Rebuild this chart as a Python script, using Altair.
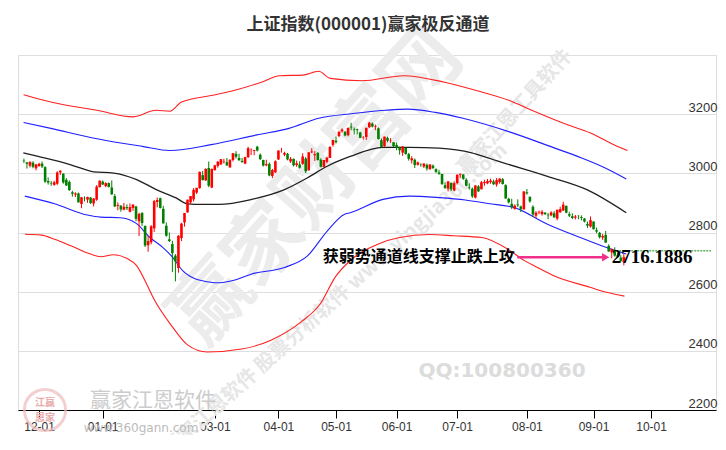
import altair as alt
import pandas as pd

# ---------------- candle data (trading days, 2023-11-24 .. 2024-09-18) ----------------
opens = [3043, 3037, 3026, 3036, 3017,
         3025, 3033, 3021, 2974, 2967, 2961, 2965, 3003, 2999, 2978, 2971, 2936, 2928, 2932, 2896, 2916, 2911, 2918, 2898, 2911, 2953,
         2972, 2957, 2967, 2952, 2923, 2890, 2891, 2877, 2886, 2870, 2883, 2888, 2838, 2866, 2822, 2757, 2767, 2814, 2903, 2916, 2880, 2823,
         2777, 2761, 2722, 2680, 2781, 2834, 2868, 2902, 2912, 2935, 2950, 2994, 2976, 3018, 2952,
         3011, 3025, 3030, 3038, 3038, 3020, 3045, 3066, 3052, 3042, 3033, 3054, 3079, 3076, 3090, 3063, 3045, 3027, 3032, 2991, 3003,
         3047, 3075, 3063, 3066, 3040, 3049, 3028, 3030, 3032, 3050, 3010, 3071, 3061, 3069, 3046, 3022, 3039, 3052, 3096, 3110,
         3126, 3142, 3141, 3129, 3158, 3150, 3149, 3138, 3121, 3123, 3156, 3168, 3157, 3152, 3112, 3092, 3120, 3110, 3105, 3096,
         3086, 3070, 3086, 3065, 3044, 3046, 3029, 3030, 3023, 3029, 3014, 3026, 3014, 3003, 2998, 2960, 2948, 2968, 2942,
         2967, 2994, 2996, 2978, 2952, 2948, 2918, 2956, 2946, 2967, 2966, 2970, 2973, 2962, 2970, 2980, 2960, 2914, 2897, 2880, 2895, 2888, 2878,
         2936, 2921, 2887, 2857, 2868, 2862, 2867, 2860, 2858, 2865, 2847, 2868, 2874, 2890, 2862, 2855, 2850, 2857, 2852, 2847, 2829, 2820,
         2837, 2808, 2799, 2783, 2792, 2755, 2733, 2741, 2724, 2715, 2700]
highs = [3050, 3038, 3040, 3041, 3032,
         3036, 3040, 3024, 2986, 2974, 2975, 3007, 3010, 3000, 2984, 2976, 2941, 2936, 2935, 2920, 2922, 2921, 2920, 2916, 2960, 2976,
         2976, 2970, 2969, 2976, 2930, 2902, 2892, 2900, 2895, 2898, 2896, 2890, 2867, 2869, 2824, 2789, 2825, 2910, 2918, 2918, 2890, 2834,
         2800, 2772, 2727, 2791, 2833, 2866, 2911, 2923, 2950, 2951, 3006, 3008, 3017, 3040, 3016,
         3029, 3042, 3048, 3049, 3052, 3047, 3069, 3075, 3066, 3052, 3056, 3090, 3084, 3079, 3093, 3067, 3046, 3046, 3037, 3015, 3044,
         3078, 3086, 3073, 3069, 3055, 3050, 3043, 3041, 3068, 3055, 3071, 3085, 3075, 3072, 3051, 3045, 3056, 3092, 3113, 3124,
         3141, 3152, 3142, 3154, 3171, 3155, 3151, 3140, 3126, 3154, 3174, 3172, 3165, 3155, 3118, 3124, 3124, 3119, 3106, 3104,
         3090, 3092, 3087, 3069, 3058, 3050, 3040, 3034, 3034, 3033, 3031, 3030, 3017, 3012, 2998, 2970, 2973, 2969, 2973,
         2997, 3000, 2997, 2983, 2966, 2952, 2960, 2960, 2974, 2978, 2981, 2982, 2979, 2984, 2984, 2984, 2963, 2917, 2914, 2895, 2912, 2891, 2939,
         2947, 2921, 2892, 2872, 2874, 2876, 2869, 2866, 2872, 2872, 2877, 2887, 2904, 2891, 2870, 2865, 2859, 2858, 2858, 2849, 2837, 2854,
         2838, 2817, 2802, 2795, 2805, 2760, 2746, 2750, 2730, 2723, 2727]
lows = [3035, 3016, 3020, 3017, 3010,
        3022, 3018, 2968, 2962, 2958, 2958, 2961, 2994, 2965, 2957, 2941, 2921, 2920, 2901, 2882, 2905, 2900, 2897, 2888, 2907, 2953,
        2961, 2953, 2952, 2927, 2886, 2875, 2870, 2875, 2876, 2868, 2873, 2838, 2788, 2822, 2751, 2735, 2760, 2802, 2885, 2881, 2830, 2786,
        2768, 2666, 2635, 2664, 2771, 2820, 2867, 2897, 2905, 2930, 2948, 2976, 2975, 2953, 2950,
        3009, 3019, 3029, 3033, 3025, 3019, 3040, 3050, 3043, 3036, 3031, 3053, 3062, 3061, 3074, 3045, 3023, 3024, 2990, 2984, 3002,
        3045, 3070, 3058, 3044, 3035, 3023, 3022, 3016, 3029, 3001, 3010, 3068, 3042, 3043, 3020, 3020, 3034, 3052, 3090, 3101,
        3122, 3137, 3125, 3125, 3146, 3131, 3132, 3119, 3114, 3113, 3153, 3155, 3146, 3114, 3088, 3090, 3105, 3103, 3089, 3078,
        3063, 3059, 3064, 3043, 3033, 3018, 3026, 3022, 3018, 3009, 3012, 3014, 3001, 2995, 2962, 2948, 2939, 2940, 2940,
        2962, 2985, 2978, 2956, 2945, 2917, 2915, 2937, 2946, 2958, 2963, 2965, 2961, 2955, 2965, 2962, 2914, 2898, 2879, 2877, 2886, 2869, 2878,
        2928, 2901, 2853, 2849, 2862, 2857, 2859, 2845, 2855, 2850, 2841, 2867, 2874, 2865, 2852, 2845, 2844, 2845, 2841, 2834, 2815, 2817,
        2810, 2797, 2780, 2775, 2765, 2735, 2713, 2718, 2716, 2700, 2689]
closes = [3041, 3032, 3039, 3022, 3030,
          3032, 3023, 2972, 2969, 2966, 2970, 3003, 3009, 2969, 2959, 2943, 2931, 2932, 2902, 2919, 2915, 2920, 2899, 2915, 2955, 2975,
          2962, 2967, 2954, 2929, 2888, 2893, 2878, 2887, 2882, 2886, 2894, 2846, 2863, 2832, 2756, 2771, 2821, 2906, 2910, 2883, 2831, 2789,
          2771, 2730, 2702, 2789, 2830, 2866, 2911, 2923, 2944, 2951, 3005, 2977, 3015, 2958, 3015,
          3027, 3039, 3048, 3040, 3027, 3046, 3068, 3056, 3044, 3038, 3055, 3085, 3080, 3079, 3077, 3048, 3026, 3031, 2993, 3011, 3041,
          3077, 3075, 3069, 3047, 3049, 3027, 3034, 3019, 3057, 3007, 3071, 3074, 3065, 3045, 3022, 3045, 3053, 3089, 3113, 3105,
          3141, 3148, 3128, 3154, 3155, 3148, 3146, 3120, 3122, 3154, 3171, 3158, 3159, 3116, 3089, 3124, 3110, 3111, 3092, 3087,
          3078, 3091, 3065, 3049, 3051, 3028, 3037, 3029, 3033, 3016, 3030, 3018, 3005, 2998, 2963, 2950, 2973, 2946, 2967,
          2995, 2997, 2982, 2958, 2950, 2922, 2959, 2939, 2970, 2971, 2974, 2976, 2963, 2977, 2982, 2964, 2915, 2902, 2886, 2891, 2892, 2879, 2939,
          2932, 2905, 2861, 2867, 2870, 2870, 2862, 2858, 2868, 2851, 2877, 2879, 2894, 2867, 2857, 2849, 2854, 2856, 2849, 2837, 2823, 2842,
          2811, 2803, 2784, 2788, 2766, 2736, 2744, 2722, 2717, 2704, 2717]

# ---------------- channel lines (trading-day index, value) ----------------
upper_red_idx = [-5.1, 3.9, 19.1, 31.1, 38.6, 43.2, 47, 56.8, 64.3, 73.4, 79.4, 87, 92.3, 96.1, 106.6, 120.3, 133.8, 144.3, 155, 162.6, 173.1, 182, 189.7, 194.2]
upper_red_val = [3266, 3241, 3213, 3191, 3213, 3210, 3241, 3263, 3280, 3308, 3330, 3332, 3345, 3321, 3313, 3330, 3308, 3280, 3247, 3213, 3169, 3136, 3097, 3077]
upper_blue_idx = [-5.1, 3.9, 19.1, 34.1, 43.2, 56.8, 71.9, 82.5, 92.3, 103.6, 114.2, 121.7, 130.8, 139.9, 155, 170, 179.1, 186.7, 193.8]
upper_blue_val = [3172, 3152, 3117, 3091, 3077, 3097, 3130, 3152, 3186, 3202, 3213, 3217, 3206, 3186, 3141, 3086, 3052, 3019, 2981]
mid_idx = [-5.2, -0.3, 10.5, 18.1, 24.6, 32.2, 38.7, 45.2, 49, 53.9, 59.3, 70.2, 81, 88.6, 95.1, 102.7, 113.5, 122.2, 132, 142.8, 148.2, 151.5, 167.8, 180.8, 193.8]
mid_val = [3069, 3057, 3029, 3005, 3001, 2979, 2945, 2917, 2897, 2895, 2895, 2912, 2945, 2985, 3024, 3057, 3088, 3088, 3085, 3069, 3052, 3041, 2990, 2945, 2867]
lower_blue_idx = [-4.7, 5.1, 15.9, 20.3, 26.8, 32.2, 36.6, 40.9, 44.1, 47.4, 51.7, 53.9, 59, 64, 70.2, 81, 88.6, 95.1, 100.7, 102.7, 113.5, 122.2, 132, 140.7, 148.2, 156.9, 167.8, 178.6, 187.3, 193.8]
lower_blue_val = [2923, 2897, 2859, 2852, 2850, 2830, 2783, 2749, 2716, 2671, 2643, 2637, 2630, 2638, 2660, 2682, 2721, 2805, 2861, 2867, 2912, 2923, 2918, 2910, 2898, 2884, 2828, 2783, 2749, 2727]
lower_red_idx = [-4.7, 0.8, 5.1, 10.5, 17, 20.3, 24.6, 28.9, 32.2, 35.5, 37.6, 44.1, 49, 55.5, 66.9, 76.7, 86.4, 92.9, 97.8, 102.7, 112.4, 119, 128.7, 136.9, 146.1, 154.8, 160.2, 164.5, 169.9, 181.8, 187.3, 193.2]
lower_red_val = [2794, 2791, 2777, 2755, 2727, 2718, 2725, 2713, 2688, 2626, 2581, 2480, 2420, 2396, 2406, 2437, 2497, 2560, 2650, 2705, 2763, 2783, 2793, 2789, 2783, 2743, 2705, 2682, 2654, 2615, 2598, 2585]

# ---------------- axes / texts ----------------
tick_idx = [0, 21, 58, 79, 98, 118, 138, 161, 183, 202]
tick_labels = ["12-01", "01-01", "03-01", "04-01", "05-01", "06-01", "07-01", "08-01", "09-01", "10-01"]
y_ticks = [2200, 2400, 2600, 2800, 3000, 3200, 3400]

title_text = "上证指数(000001)赢家极反通道"
note_text = "获弱势通道线支撑止跌上攻"
price_text = "2716.1886"
price_val = 2716.1886
last_line_val = 2738

n = len(closes)
df = pd.DataFrame({"idx": list(range(-5, n - 5)), "open": opens, "high": highs,
                   "low": lows, "close": closes})
df["dir"] = ["up" if c >= o else "down" for o, c in zip(opens, closes)]

label_expr = "".join(f"datum.value == {i} ? '{l}' : " for i, l in zip(tick_idx, tick_labels)) + "''"

# layout (page coordinates of the plot origin)
PX0, PY0 = 18, 55
W, H = 698, 355
X_DOMAIN = [-5.3, -5.3 + W / 3.074]

x_axis = alt.Axis(values=tick_idx, labelExpr=label_expr, grid=False, domain=True,
                  domainColor="#000000", domainWidth=1, ticks=True, tickColor="#000000",
                  tickSize=8, labelFont="Liberation Sans", labelFontSize=12,
                  labelColor="#333333", labelPadding=3, title=None, labelFlush=False)
y_axis = alt.Axis(orient="right", values=y_ticks, format="d",
                  labelExpr="datum.value >= 3400 ? '' : datum.label",
                  grid=True, gridColor="#dedede", gridWidth=1, domain=False, ticks=False,
                  tickSize=0, labelAlign="right", labelBaseline="bottom", labelPadding=1,
                  labelFont="Liberation Sans", labelFontSize=13, labelColor="#333333", title=None)

xs = alt.Scale(domain=X_DOMAIN, nice=False, zero=False)
ys = alt.Scale(domain=[2200, 3400], nice=False, zero=False)


def X(field):
    return alt.X(field, type="quantitative", scale=xs, axis=x_axis)


def Y(field):
    return alt.Y(field, type="quantitative", scale=ys, axis=y_axis)


def band(idx, val, color, width=1.1):
    d = pd.DataFrame({"idx": idx, "val": val})
    return alt.Chart(d).mark_line(color=color, strokeWidth=width, interpolate="monotone").encode(
        x=X("idx"), y=Y("val"))


one = pd.DataFrame({"k": [0]})


def txt(text, px, py, size, color, angle=0, weight="normal", font="Noto Sans CJK SC", opacity=1.0):
    # px/py are page coordinates, converted to plot coordinates
    return alt.Chart(one).mark_text(text=text, fontSize=size, color=color, angle=angle,
                                    fontWeight=weight, font=font, opacity=opacity,
                                    align="center", baseline="middle").encode(
        x=alt.value(px - PX0), y=alt.value(py - PY0))


watermarks = [
    txt("赢家财富网", 318, 188, 78, "#ececec", angle=312, weight="bold"),
    txt("赢家江恩软件 股票分析软件 www.yingjia360.com", 335, 300, 20, "#e6e6e6", angle=318, weight="bold"),
    txt("赢家江恩工具软件", 515, 112, 20, "#e6e6e6", angle=312, weight="bold"),
    txt("QQ:100800360", 502, 371, 20, "#dcdcdc", weight="bold", font="DejaVu Sans"),
    txt("赢家江恩软件", 153, 401, 21, "#cccccc"),
    txt("www.360gann.com", 141, 428, 12, "#bbbbbb", font="DejaVu Sans"),
    txt("江赢", 45, 403, 10, "#e9a9a9", weight="bold"),
    txt("恩家", 45, 418, 10, "#e9a9a9", weight="bold"),
]
logo_ring = alt.Chart(one).mark_point(shape="circle", size=1700, filled=False, color="#efbcbc",
                                      strokeWidth=3).encode(x=alt.value(45 - PX0), y=alt.value(410 - PY0))
title = txt(title_text, 368, 25, 17, "#333333", weight="bold")

updown = alt.Color("dir:N", scale=alt.Scale(domain=["up", "down"], range=["#ff0000", "#008000"]), legend=None)
wick = alt.Chart(df).mark_rule(strokeWidth=1).encode(x=X("idx"), y=Y("low"), y2="high", color=updown)
body = alt.Chart(df).mark_bar(size=2.6).encode(x=X("idx"), y=Y("open"), y2="close", color=updown)

lines = [
    band(upper_red_idx, upper_red_val, "#ff2020"),
    band(upper_blue_idx, upper_blue_val, "#2020ff"),
    band(mid_idx, mid_val, "#202020", 1.3),
    band(lower_blue_idx, lower_blue_val, "#2020ff"),
    band(lower_red_idx, lower_red_val, "#ff2020"),
]

last_line = alt.Chart(one).mark_rule(color="#118811", strokeDash=[2, 1], strokeWidth=1).encode(
    x=alt.datum(190.5, scale=xs, axis=x_axis), x2=alt.datum(X_DOMAIN[1]),
    y=alt.datum(last_line_val, scale=ys, axis=y_axis))
arrow = alt.Chart(one).mark_rule(color="#f0308a", strokeWidth=2.5).encode(
    x=alt.datum(157.8, scale=xs, axis=x_axis), x2=alt.datum(186.5),
    y=alt.datum(price_val, scale=ys, axis=y_axis))
arrow_head = alt.Chart(one).mark_point(shape="triangle-right", filled=True, size=70, color="#f0308a", opacity=1).encode(
    x=alt.datum(187.0, scale=xs, axis=x_axis), y=alt.datum(price_val, scale=ys, axis=y_axis))
note = alt.Chart(one).mark_text(text=note_text, align="right", baseline="middle", fontSize=16,
                                fontWeight="bold", font="Noto Sans CJK SC", color="#000000").encode(
    x=alt.datum(157.0, scale=xs, axis=x_axis), y=alt.datum(price_val, scale=ys, axis=y_axis))
price = alt.Chart(one).mark_text(text=price_text, align="left", baseline="middle", fontSize=19,
                                 fontWeight="bold", font="Liberation Serif", color="#000000").encode(
    x=alt.datum(189.0, scale=xs, axis=x_axis), y=alt.datum(price_val, scale=ys, axis=y_axis))

chart = alt.layer(
    *watermarks, logo_ring, *lines, wick, body, last_line, arrow, arrow_head, note, price, title
).properties(
    width=W, height=H,
    padding={"left": PX0 - 8, "top": PY0 - 8, "right": 2, "bottom": 25},
    autosize=alt.AutoSizeParams(type="none"),
).configure_view(stroke=None).configure(background="#ffffff")

chart.save("out.html", embed_options={"renderer": "svg", "actions": False})
